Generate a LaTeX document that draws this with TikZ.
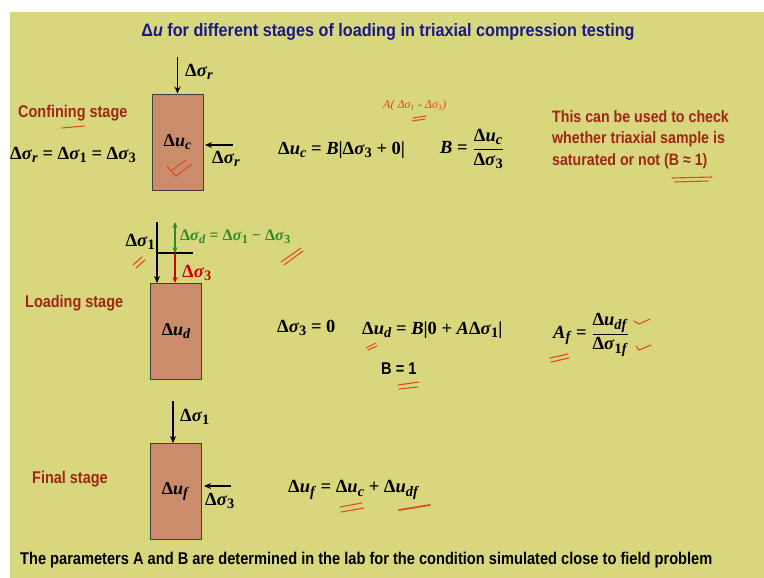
\documentclass[tikz,border=0pt]{standalone}
\usepackage{fontspec}
\usepackage{graphicx}
\setmainfont{Liberation Serif}
\newfontfamily\sansb[FakeStretch=0.85]{Liberation Sans}
\newfontfamily\sanst[FakeStretch=0.9]{Liberation Sans}
\newfontfamily\sansn[FakeStretch=0.86]{Liberation Sans}
\usetikzlibrary{arrows.meta}
\definecolor{bg}{RGB}{217,215,126}
\definecolor{boxc}{RGB}{203,140,108}
\definecolor{redt}{RGB}{160,38,22}
\definecolor{titleb}{RGB}{25,25,135}
\definecolor{greent}{RGB}{45,140,40}
\definecolor{scrib}{RGB}{225,75,35}
\newcommand{\sbs}[1]{\raisebox{-0.4ex}{\scalebox{0.78}{#1}}}
\newcommand{\ds}[1]{Δ\textit{σ}\sbs{#1}}
\newcommand{\du}[1]{Δ\textit{u}\sbs{\textit{#1}}}
\begin{document}
\begin{tikzpicture}[x=1pt,y=-1pt,
  mth/.style={font=\fontsize{18.5}{22}\selectfont\bfseries, inner sep=0pt},
  smth/.style={font=\fontsize{16}{19}\selectfont\bfseries, inner sep=0pt},
  lbl/.style={font=\sansb\fontsize{17}{20}\selectfont\bfseries, text=redt, inner sep=0pt},
  sample/.style={draw=black!75, line width=0.9pt, fill=boxc, minimum width=51pt, minimum height=96pt, inner sep=0pt, font=\fontsize{18}{21}\selectfont\bfseries},
  arr/.style={-{Stealth[length=7pt,width=6pt]}, line width=1.6pt},
  sc/.style={draw=scrib, line width=1.1pt, line cap=round}
]
\useasboundingbox (0,0) rectangle (764,578);
\fill[white] (0,0) rectangle (764,578);
\fill[bg] (10,12) rectangle (764,578);

% title
\node[font=\sanst\fontsize{18}{21}\selectfont\bfseries, text=titleb, inner sep=0pt] (ttl) at (388,32) {Δ\textit{u} for different stages of loading in triaxial compression testing};

% ---------- Confining stage ----------
\node[sample] (b1) at (177.5,142) {\du{c}};
\coordinate (t1) at (177.5,57);
\draw[arr] (t1) -- (b1.north);
\node[mth, anchor=west] (l1) at (185,72) {\ds{\textit{r}}};
\coordinate (s1) at (233,145);
\coordinate (s1e) at (205,145);
\draw[arr] (s1) -- (s1e);
\node[mth, anchor=west] (l2) at (212,159) {\ds{\textit{r}}};
\node[lbl, anchor=west] (cs) at (18,113) {Confining stage};
\node[mth, anchor=west] (eq1) at (10,155) {\ds{\textit{r}} = \ds{1} = \ds{3}};
\node[mth, anchor=west] (eq2) at (278,150) {\du{c} = \textit{B}|\ds{3} + 0|};
\node[mth, anchor=west] (eq3) at (440,149) {\textit{B} = $\displaystyle\frac{\hbox{\du{c}}}{\hbox{\ds{3}}}$};
\node[font=\fontsize{12}{14}\selectfont\itshape, text=scrib, inner sep=0pt, anchor=west] (ann) at (383,106) {A( Δσ\textsubscript{1} - Δσ\textsubscript{3})};
\node[lbl, anchor=north west, align=left, font=\sansn\fontsize{16.5}{21.5}\selectfont\bfseries] (note) at (552,110) {This can be used to check\\whether triaxial sample is\\saturated or not (B ≈ 1)};

% ---------- Loading stage ----------
\node[sample] (b2) at (176,331) {\raisebox{-6pt}{\du{d}}};
\coordinate (v1) at (157,222);
\coordinate (v1e) at (157,283);
\draw[arr, line width=1.3pt] (v1) -- (v1e);
\coordinate (h1) at (157,253);
\coordinate (h2) at (193,253);
\draw[line width=1.6pt] (h1) -- (h2);
\coordinate (g1) at (175,222);
\coordinate (g2) at (175,253);
\draw[{Stealth[length=6pt,width=5pt]}-{Stealth[length=6pt,width=5pt]}, line width=1.5pt, greent] (g2) -- (g1);
\coordinate (r1) at (175,283);
\draw[-{Stealth[length=6pt,width=5pt]}, line width=1.5pt, red!80!black] (g2) -- (r1);
\node[mth, anchor=east] (l3) at (155,242) {\ds{1}};
\node[smth, anchor=west, text=greent] (gd) at (180,237) {\ds{\textit{d}} = \ds{1} − \ds{3}};
\node[mth, anchor=west, text=red!80!black] (l4) at (182,273) {\ds{3}};
\node[lbl, anchor=west] (ls) at (25,303) {Loading stage};
\node[mth, anchor=west] (eq4) at (277,328) {\ds{3} = 0};
\node[mth, anchor=west] (eq5) at (362,330) {\du{d} = \textit{B}|0 + \textit{A}\ds{1}|};
\node[font=\sansn\fontsize{17}{20}\selectfont\bfseries, inner sep=0pt, anchor=west] (b1eq) at (381,369) {B = 1};
\node[mth, anchor=west] (eq6) at (553,335) {\textit{A}\sbs{\textit{f}} = $\displaystyle\frac{\hbox{\du{df}}}{\hbox{\ds{1\textit{f}}}}$};

% ---------- Final stage ----------
\node[sample] (b3) at (175.5,491.5) {\du{f}};
\coordinate (t3) at (173,401);
\draw[arr] (t3) -- (t3 |- b3.north);
\node[mth, anchor=west] (l5) at (180,417) {\ds{1}};
\coordinate (s3) at (231,486);
\coordinate (s3e) at (204,486);
\draw[arr] (s3) -- (s3e);
\node[mth, anchor=west] (l6) at (205,501) {\ds{3}};
\node[lbl, anchor=west] (fs) at (32,479) {Final stage};
\node[mth, anchor=west] (eq7) at (288,490) {\du{f} = \du{c} + \du{df}};

% bottom
\node[font=\sansn\fontsize{17}{20}\selectfont\bfseries, inner sep=0pt, anchor=west] (bot) at (20,560) {The parameters A and B are determined in the lab for the condition simulated close to field problem};

% handwritten marks
\draw[sc] (62,128) -- (84,126);
\draw[sc] (167,166) -- (171,171) -- (186,160);
\draw[sc] (172,172) -- (176,176) -- (192,164);
\draw[sc] (413,118) -- (426,116);
\draw[sc] (412,121) -- (425,119);
\draw[sc] (672,178) -- (712,177);
\draw[sc] (675,182) -- (708,181);
\draw[sc] (133,265) -- (142,257);
\draw[sc] (136,268) -- (145,260);
\draw[sc] (281,262) -- (301,248);
\draw[sc] (284,265) -- (303,251);
\draw[sc] (366,348) -- (376,343);
\draw[sc] (368,350) -- (377,346);
\draw[sc] (398,385) -- (419,382);
\draw[sc] (399,389) -- (418,387);
\draw[sc] (550,358) -- (568,354);
\draw[sc] (551,362) -- (569,358);
\draw[sc] (634,321) -- (639,324) -- (650,319);
\draw[sc] (636,346) -- (639,350) -- (651,345);
\draw[sc] (340,507) -- (362,503);
\draw[sc] (341,512) -- (364,508);
\draw[sc, line width=1.8pt] (399,510) -- (430,505);
\end{tikzpicture}
\end{document}
